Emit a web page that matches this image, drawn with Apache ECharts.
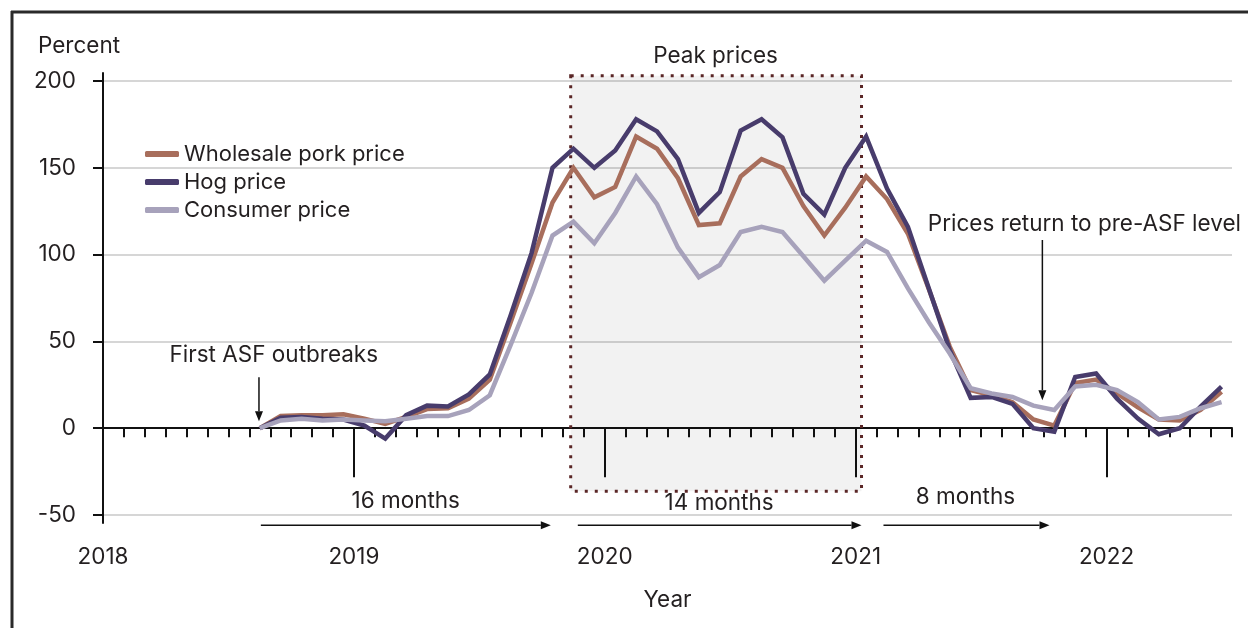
<!DOCTYPE html>
<html>
<head>
<meta charset="utf-8">
<script src="https://cdn.jsdelivr.net/npm/echarts@6.0.0/dist/echarts.min.js"></script>
<style>
    html, body { margin: 0; padding: 0; background: #fff; }
    #main { width: 1248px; height: 628px; }
</style>
</head>
<body>
<div id="main"></div>
<script>
    // months of the observations (percent change vs. pre-ASF level)
    const months = [
        '2018-08', '2018-09', '2018-10', '2018-11', '2018-12',
        '2019-01', '2019-02', '2019-03', '2019-04', '2019-05', '2019-06',
        '2019-07', '2019-08', '2019-09', '2019-10', '2019-11', '2019-12',
        '2020-01', '2020-02', '2020-03', '2020-04', '2020-05', '2020-06',
        '2020-07', '2020-08', '2020-09', '2020-10', '2020-11', '2020-12',
        '2021-01', '2021-02', '2021-03', '2021-04', '2021-05', '2021-06',
        '2021-07', '2021-08', '2021-09', '2021-10', '2021-11', '2021-12',
        '2022-01', '2022-02', '2022-03', '2022-04', '2022-05', '2022-06'
    ];
    const wholesale = [
        0, 7, 7.5, 7.5, 8,
        5.5, 2.5, 6.5, 11, 11.5, 17,
        28, 61, 95, 130, 150, 133,
        139, 168, 161, 144, 117, 118,
        145, 155, 150, 128, 111, 127,
        145, 132, 112, 80, 47, 22,
        19, 15, 5, 1.5, 26, 28,
        20, 12, 5, 4.5, 10.5, 21
    ];
    const hog = [
        0, 6, 6.5, 5.5, 5,
        1.5, -6, 7.5, 13, 12.5, 19.5,
        31, 65, 101, 150, 161, 150,
        160, 178, 171, 155, 124, 136,
        171.5, 178, 167.5, 135, 123, 150,
        168, 138, 116, 80.5, 45, 17.5,
        18, 14, 0, -2, 29.5, 31.5,
        17, 5.5, -3.5, 0, 12.5, 24
    ];
    const consumer = [
        0, 4.5, 5.5, 4.5, 5,
        4.5, 4, 5.5, 7, 7, 10.5,
        19, 48, 78, 111, 119, 106.5,
        124, 145, 129, 104, 87, 94,
        113, 116, 113, 99, 85, 96.5,
        108, 101.5, 80.5, 61, 43, 23,
        20, 18, 13, 10.5, 24, 25,
        22, 15, 5, 6.5, 11.5, 15
    ];
    const yearLabels = ['2018', '2019', '2020', '2021', '2022'];
    const seriesNames = ['Wholesale pork price', 'Hog price', 'Consumer price'];

    // annotations, in axis units (months since Jan 2018, percent)
    const peakBox = [[22.37, 203], [36.28, -36.3]];
    const notes = [
        {text: 'Peak prices', at: [29.3, 214]},
        {text: 'First ASF outbreaks', at: [8.17, 42.1]},
        {text: 'Prices return to pre-ASF level', at: [46.94, 117.6]},
        {text: '16 months', at: [14.48, -42.1]},
        {text: '14 months', at: [29.47, -43.3]},
        {text: '8 months', at: [41.25, -39.8]}
    ];
    const arrows = [
        [[7.46, 29.4], [7.46, 4]],
        [[44.93, 108.4], [44.93, 16.1]],
        [[7.55, -55.9], [21.42, -55.9]],
        [[22.71, -55.9], [36.28, -55.9]],
        [[37.33, -55.9], [45.27, -55.9]]
    ];

    const FONT = 'Inter, "Liberation Sans", sans-serif';
    const FS = 22.5;
    const TEXT = '#231f20';
    const colors = ['#a86e5c', '#483c6c', '#a7a2bb'];

    const xOf = m => {
        const [y, mo] = m.split('-').map(Number);
        return (y - 2018) * 12 + (mo - 1) + 0.5;
    };
    const pairs = vals => vals.map((v, i) => [xOf(months[i]), v]);

    const chart = echarts.init(document.getElementById('main'));
    const option = {
        animation: false,
        textStyle: {fontFamily: FONT},
        color: colors,
        title: {
            text: 'Percent', left: 33, top: 30,
            textStyle: {fontFamily: FONT, fontSize: FS, fontWeight: 'normal', color: TEXT}
        },
        legend: {
            orient: 'vertical', left: 140, top: 138, itemGap: 6,
            icon: 'roundRect', itemWidth: 34, itemHeight: 6,
            textStyle: {fontFamily: FONT, fontSize: 22, color: TEXT},
            data: seriesNames
        },
        grid: {left: 103, right: 16, top: 81, bottom: 113, containLabel: false, outerBoundsMode: 'none'},
        xAxis: [
            {
                type: 'value', min: 0, max: 54, interval: 1, position: 'bottom',
                axisLine: {onZero: true, onZeroAxisIndex: 0, lineStyle: {color: '#111', width: 2}},
                axisTick: {length: 9, lineStyle: {color: '#111', width: 2}},
                axisLabel: {show: false}, splitLine: {show: false}
            },
            {
                // year ticks, hung on the zero line of the twin y scale
                type: 'value', min: 0, max: 54, position: 'bottom',
                axisLine: {show: false, onZero: true, onZeroAxisIndex: 1},
                axisTick: {customValues: [12, 24, 36, 48], length: 49, lineStyle: {color: '#111', width: 2}},
                axisLabel: {show: false}, splitLine: {show: false}
            },
            {
                // year labels and axis title under the plot
                type: 'value', min: 0, max: 54, interval: 12, position: 'bottom',
                axisLine: {show: false, onZero: false}, axisTick: {show: false},
                axisLabel: {
                    margin: 31, fontFamily: FONT, fontSize: FS, color: TEXT,
                    formatter: v => (v % 12 === 0 ? yearLabels[v / 12] : '')
                },
                splitLine: {show: false},
                name: 'Year', nameLocation: 'middle', nameGap: 74,
                nameTextStyle: {fontFamily: FONT, fontSize: FS, color: TEXT}
            }
        ],
        yAxis: [
            {
                type: 'value', min: -50, max: 200, interval: 50,
                axisLine: {show: true, onZero: false, lineStyle: {color: '#111', width: 2}},
                axisTick: {show: true, length: 10, lineStyle: {color: '#111', width: 2}},
                axisLabel: {margin: 27, fontFamily: FONT, fontSize: FS, color: TEXT},
                splitLine: {lineStyle: {color: '#c9c9c9', width: 1.5}}
            },
            {
                type: 'value', min: -50, max: 200, interval: 50, show: false,
                axisLine: {onZero: false}, splitLine: {show: false}
            }
        ],
        series: [wholesale, hog, consumer].map((vals, k) => ({
            name: seriesNames[k], type: 'line', xAxisIndex: 0, yAxisIndex: 0,
            symbol: 'none', clip: false,
            lineStyle: {width: 4.5, color: colors[k], join: 'miter'},
            itemStyle: {color: colors[k]},
            data: pairs(vals)
        }))
    };
    chart.setOption(option);

    // annotations placed through the chart's own scales
    const P = (x, y) => chart.convertToPixel({xAxisIndex: 0, yAxisIndex: 0}, [x, y]);
    const g = [];
    const b0 = P(peakBox[0][0], peakBox[0][1]), b1 = P(peakBox[1][0], peakBox[1][1]);
    g.push({
        type: 'rect', z: 1, silent: true,
        shape: {x: b0[0], y: b0[1], width: b1[0] - b0[0], height: b1[1] - b0[1]},
        style: {fill: 'rgba(0,0,0,0.05)', stroke: '#5a2626', lineWidth: 3, lineDash: [3, 7]}
    });
    notes.forEach(n => {
        const p = P(n.at[0], n.at[1]);
        g.push({
            type: 'text', z: 10, x: p[0], y: p[1],
            style: {text: n.text, fill: TEXT, font: FS + 'px ' + FONT,
                align: 'center', verticalAlign: 'middle', textAlign: 'center', textVerticalAlign: 'middle'}
        });
    });
    arrows.forEach(a => {
        const p0 = P(a[0][0], a[0][1]), p1 = P(a[1][0], a[1][1]);
        const dx = p1[0] - p0[0], dy = p1[1] - p0[1];
        const len = Math.hypot(dx, dy), ux = dx / len, uy = dy / len;
        const hl = 10, hw = 4;
        const bx = p1[0] - ux * hl, by = p1[1] - uy * hl;
        g.push({
            type: 'line', z: 10, shape: {x1: p0[0], y1: p0[1], x2: bx, y2: by},
            style: {stroke: '#111', lineWidth: 1.5}
        });
        g.push({
            type: 'polygon', z: 10,
            shape: {points: [p1, [bx - uy * hw, by + ux * hw], [bx + uy * hw, by - ux * hw]]},
            style: {fill: '#111'}
        });
    });
    // the value axis line runs a little past 200 and -50
    const yTop = P(0, 205), yBot = P(0, -55);
    g.push({type: 'line', z: 10, shape: {x1: yTop[0], y1: yTop[1], x2: yBot[0], y2: yBot[1]},
        style: {stroke: '#111', lineWidth: 2}});
    // frame of the figure
    g.push({type: 'line', z: 10, shape: {x1: 11, y1: 12, x2: 1248, y2: 12}, style: {stroke: '#2a2a2a', lineWidth: 3}});
    g.push({type: 'line', z: 10, shape: {x1: 12, y1: 11, x2: 12, y2: 628}, style: {stroke: '#2a2a2a', lineWidth: 3}});
    chart.setOption({graphic: g});
</script>
</body>
</html>
